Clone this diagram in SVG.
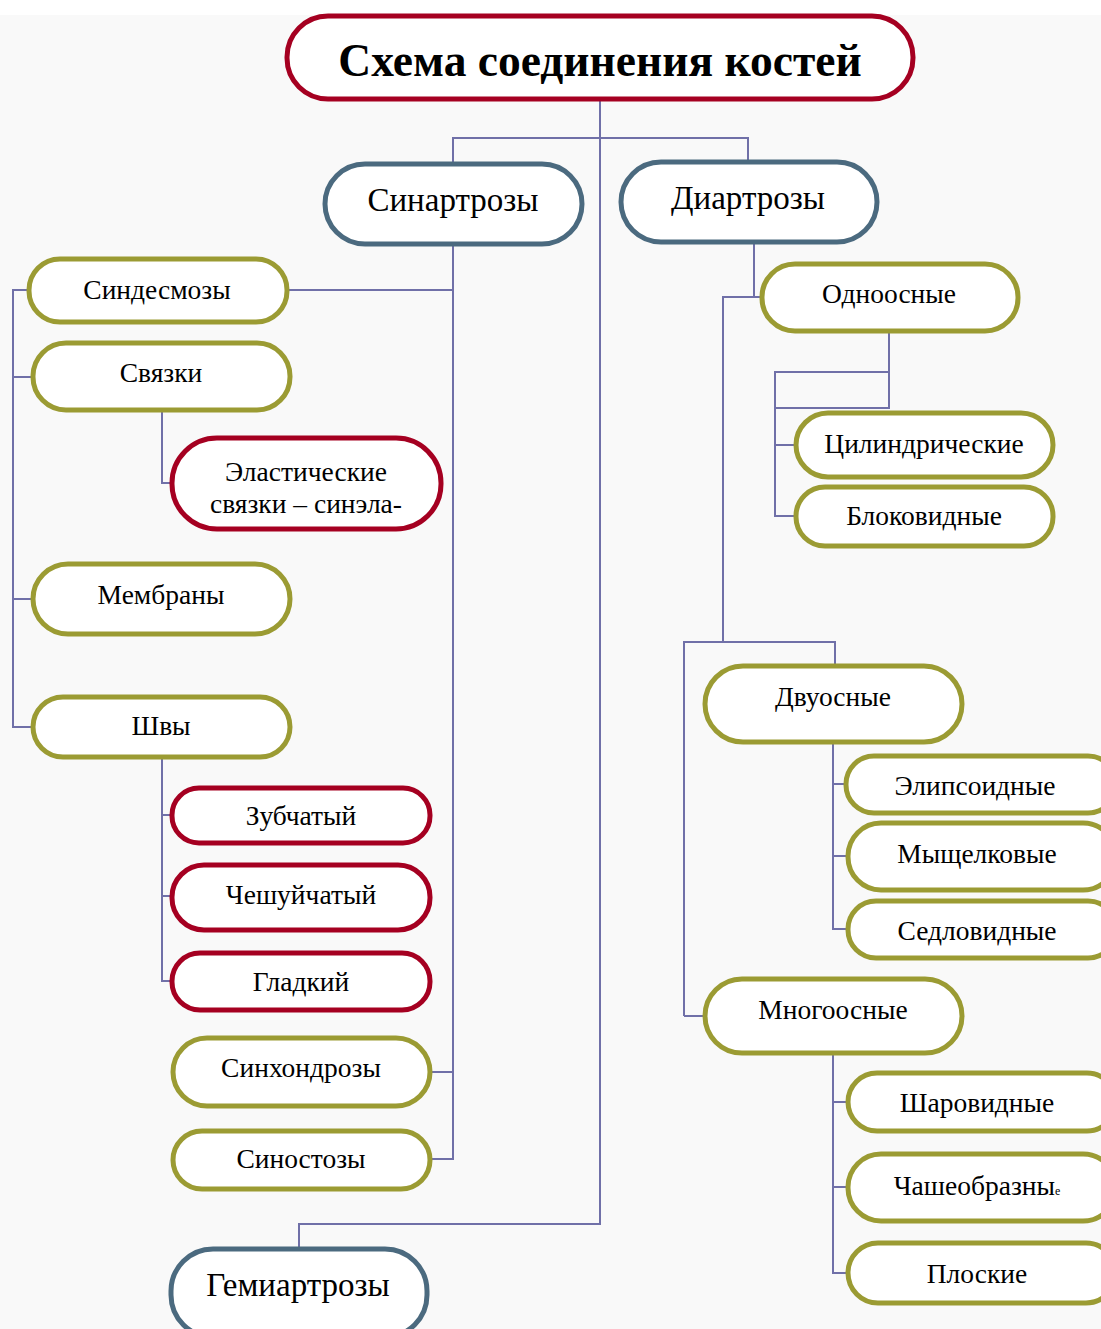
<svg xmlns="http://www.w3.org/2000/svg" width="1101" height="1329" viewBox="0 0 1101 1329">
<style>
.n{fill:#ffffff;stroke-width:5}
.red{stroke:#a50021}
.blue{stroke:#4b6a7f}
.olive{stroke:#9b9b33}
.t{font-family:"Liberation Serif","Times New Roman",serif;font-size:27.5px;fill:#000;text-anchor:middle}
.big{font-size:33px}
.title{font-size:45.5px;font-weight:bold}
#connectors path{fill:none;stroke:#7070a8;stroke-width:2}
</style>
<rect x="0" y="0" width="1101" height="1329" fill="#ffffff"/>
<rect x="0" y="15" width="1101" height="1314" fill="#f9f9f9"/>
<g id="connectors">
<path d="M600 99V1224H299V1250"/>
<path d="M453 163V138H748V161"/>
<path d="M453 244V1159H430"/>
<path d="M287 290H453"/>
<path d="M430 1072H453"/>
<path d="M28 290H13V727H33"/>
<path d="M13 377H33"/>
<path d="M13 599H33"/>
<path d="M162 410V483H172"/>
<path d="M162 757V981H172"/>
<path d="M162 815H172"/>
<path d="M162 896H172"/>
<path d="M754 242V297H761"/>
<path d="M754 297H723V641"/>
<path d="M684 1016V642H835V665"/>
<path d="M889 331V408H775"/>
<path d="M889 372H775V516H795"/>
<path d="M775 445H795"/>
<path d="M833 742V929H846"/>
<path d="M833 784H846"/>
<path d="M833 856H848"/>
<path d="M684 1016H704"/>
<path d="M833 1053V1273H848"/>
<path d="M833 1102H848"/>
<path d="M833 1187H848"/>
</g>
<g id="title"><rect class="n red" x="287" y="16" width="626" height="83" rx="41" stroke-width="4.5"/><text class="t title" x="600" y="76">Схема соединения костей</text></g>
<g id="sinartrozy"><rect class="n blue" x="325" y="164" width="257" height="80" rx="40"/><text class="t big" x="453" y="211">Синартрозы</text></g>
<g id="diartrozy"><rect class="n blue" x="621" y="162" width="256" height="80" rx="40"/><text class="t big" x="748" y="209">Диартрозы</text></g>
<g id="gemiartrozy"><rect class="n blue" x="171" y="1249" width="256" height="88" rx="42"/><text class="t big" x="298" y="1296">Гемиартрозы</text></g>
<g id="sindesmozy"><rect class="n olive" x="29" y="259" width="258" height="63" rx="31"/><text class="t" x="157" y="299">Синдесмозы</text></g>
<g id="svyazki"><rect class="n olive" x="33" y="343" width="257" height="67" rx="33"/><text class="t" x="161" y="382">Связки</text></g>
<g id="elastic"><rect class="n red" x="172" y="438" width="269" height="91" rx="45"/><text class="t" x="306" y="481">Эластические</text><text class="t" x="306" y="513">связки – синэла-</text></g>
<g id="membrany"><rect class="n olive" x="33" y="564" width="257" height="70" rx="35"/><text class="t" x="161" y="604">Мембраны</text></g>
<g id="shvy"><rect class="n olive" x="33" y="697" width="257" height="60" rx="30"/><text class="t" x="161" y="735">Швы</text></g>
<g id="zubchaty"><rect class="n red" x="172" y="788" width="258" height="55" rx="27"/><text class="t" x="301" y="825">Зубчатый</text></g>
<g id="cheshuychaty"><rect class="n red" x="172" y="865" width="258" height="65" rx="32"/><text class="t" x="301" y="904">Чешуйчатый</text></g>
<g id="gladkiy"><rect class="n red" x="172" y="953" width="258" height="57" rx="28"/><text class="t" x="301" y="991">Гладкий</text></g>
<g id="sinhondrozy"><rect class="n olive" x="173" y="1038" width="257" height="68" rx="34"/><text class="t" x="301" y="1077">Синхондрозы</text></g>
<g id="sinostozy"><rect class="n olive" x="173" y="1131" width="257" height="58" rx="29"/><text class="t" x="301" y="1168">Синостозы</text></g>
<g id="odnoosnye"><rect class="n olive" x="762" y="264" width="256" height="67" rx="33"/><text class="t" x="889" y="303">Одноосные</text></g>
<g id="cilindr"><rect class="n olive" x="796" y="413" width="257" height="64" rx="32"/><text class="t" x="924" y="453">Цилиндрические</text></g>
<g id="blokovid"><rect class="n olive" x="796" y="487" width="257" height="59" rx="29"/><text class="t" x="924" y="525">Блоковидные</text></g>
<g id="dvuosnye"><rect class="n olive" x="705" y="666" width="257" height="76" rx="38"/><text class="t" x="833" y="706">Двуосные</text></g>
<g id="elipsoid"><rect class="n olive" x="846" y="756" width="270" height="57" rx="28"/><text class="t" x="975" y="795">Элипсоидные</text></g>
<g id="myshchelk"><rect class="n olive" x="848" y="823" width="268" height="67" rx="33"/><text class="t" x="977" y="863">Мыщелковые</text></g>
<g id="sedlovid"><rect class="n olive" x="848" y="901" width="268" height="57" rx="28"/><text class="t" x="977" y="940">Седловидные</text></g>
<g id="mnogoosnye"><rect class="n olive" x="705" y="979" width="257" height="74" rx="37"/><text class="t" x="833" y="1019">Многоосные</text></g>
<g id="sharovid"><rect class="n olive" x="848" y="1073" width="268" height="58" rx="29"/><text class="t" x="977" y="1112">Шаровидные</text></g>
<g id="chasheobr"><rect class="n olive" x="848" y="1154" width="268" height="67" rx="33"/><text class="t" x="977" y="1195">Чашеобразны<tspan font-size="12">е</tspan></text></g>
<g id="ploskie"><rect class="n olive" x="848" y="1243" width="268" height="60" rx="30"/><text class="t" x="977" y="1283">Плоские</text></g>
</svg>
